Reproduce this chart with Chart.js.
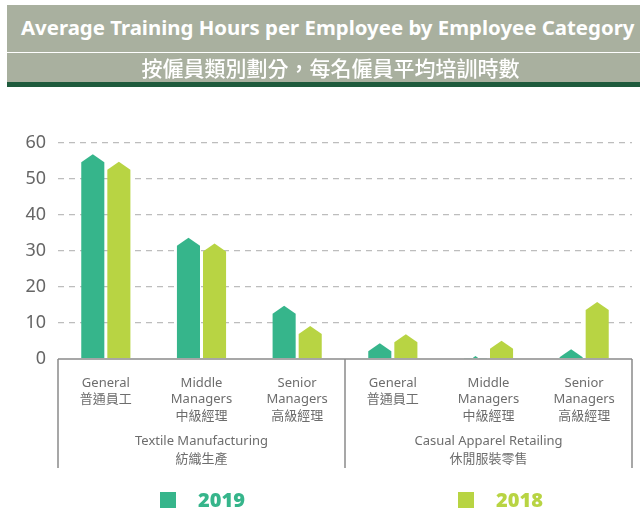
<!DOCTYPE html>
<html>
<head>
<meta charset="utf-8">
<script src="https://cdn.jsdelivr.net/npm/chart.js"></script>
<style>
    body { margin: 0; background: #fff; }
    #wrap { position: relative; width: 640px; height: 510px; overflow: hidden; }
    #grafica { position: absolute; left: 0; top: 0; }
    .banda1 {
        position: absolute; left: 7px; top: 5px; width: 633px; height: 47px;
        background: #a9b09f; color: #fff; white-space: nowrap;
        font: bold 20.4px "Noto Sans", sans-serif; line-height: 44px; text-indent: 14px;
    }
    .banda2 {
        position: absolute; left: 7px; top: 53px; width: 633px; height: 29px;
        background: #a9b09f; color: #fff; text-align: center; white-space: nowrap;
        font: 500 21px "Noto Sans CJK TC", sans-serif; line-height: 29px; text-indent: 14px;
    }
    .linea { position: absolute; left: 7px; top: 82px; width: 633px; height: 5px; background: #1f5b3d; }
    .leyenda { position: absolute; top: 488px; height: 24px; font: bold 20px "Noto Sans", sans-serif; line-height: 24px; }
    .leyenda span { position: absolute; left: 0; top: 4px; width: 16px; height: 16px; }
    .leyenda b { position: absolute; left: 38px; top: 0; }
</style>
</head>
<body>
<div id="wrap">
    <canvas id="grafica" width="640" height="510"></canvas>
    <div class="banda1">Average Training Hours per Employee by Employee Category</div>
    <div class="banda2">按僱員類別劃分，每名僱員平均培訓時數</div>
    <div class="linea"></div>
    <div class="leyenda" style="left:160px; color:#36b58b;"><span style="background:#36b58b;"></span><b>2019</b></div>
    <div class="leyenda" style="left:458px; color:#b8d443;"><span style="background:#b8d443;"></span><b>2018</b></div>
</div>
<script>
// Datos de la grafica
const categorias = [
    ["General", "普通員工"],
    ["Middle", "Managers", "中級經理"],
    ["Senior", "Managers", "高級經理"],
    ["General", "普通員工"],
    ["Middle", "Managers", "中級經理"],
    ["Senior", "Managers", "高級經理"],
];
const grupos = [
    ["Textile Manufacturing", "紡織生產"],
    ["Casual Apparel Retailing", "休閒服裝零售"],
];
const horas2019 = [56.9, 33.7, 14.8, 4.4, 0.8, 2.7];
const horas2018 = [54.8, 32.1, 9.2, 6.9, 5.1, 15.8];
const ticksY = [0, 10, 20, 30, 40, 50, 60];

const verde2019 = "#36b58b";
const verde2018 = "#b8d443";

Chart.defaults.font.family = '"Noto Sans", "Noto Sans CJK TC", sans-serif';

// Barras con la punta en forma de flecha (pentagono)
const pentagonos = {
    id: "pentagonos",
    beforeDatasetDraw() {
        // no dibujar el rectangulo normal
        return false;
    },
    afterDatasetsDraw(chart) {
        const ctx = chart.ctx;
        const area = chart.chartArea;
        const punta = 8;
        chart.data.datasets.forEach((ds, i) => {
            const meta = chart.getDatasetMeta(i);
            meta.data.forEach((bar) => {
                const { x, y, base, width } = bar.getProps(["x", "y", "base", "width"], true);
                const mitad = width / 2;
                ctx.save();
                ctx.beginPath();
                ctx.rect(area.left, area.top - 20, area.right - area.left, base - area.top + 20);
                ctx.clip();
                ctx.beginPath();
                ctx.moveTo(x - mitad, base);
                ctx.lineTo(x - mitad, y + punta);
                ctx.lineTo(x, y);
                ctx.lineTo(x + mitad, y + punta);
                ctx.lineTo(x + mitad, base);
                ctx.closePath();
                ctx.fillStyle = ds.backgroundColor;
                ctx.fill();
                ctx.restore();
            });
        });
    },
    afterDraw(chart) {
        // linea base y separadores de los grupos
        const ctx = chart.ctx;
        const escalaX = chart.scales.x;
        const y0 = chart.scales.y.getPixelForValue(0);
        const medio = (escalaX.getPixelForValue(2) + escalaX.getPixelForValue(3)) / 2;
        ctx.save();
        ctx.strokeStyle = "#8a8a8a";
        ctx.lineWidth = 1.5;
        ctx.beginPath();
        ctx.moveTo(escalaX.left, y0);
        ctx.lineTo(escalaX.right, y0);
        [escalaX.left, medio, escalaX.right].forEach((px) => {
            ctx.moveTo(px, y0);
            ctx.lineTo(px, y0 + 109);
        });
        ctx.stroke();
        ctx.restore();
    },
};

const canvas = document.getElementById("grafica").getContext("2d");
const chart = new Chart(canvas, {
    type: "bar",
    data: {
        labels: categorias,
        datasets: [
            {
                label: "2019",
                data: horas2019,
                backgroundColor: verde2019,
                categoryPercentage: 0.545,
                barPercentage: 0.885,
            },
            {
                label: "2018",
                data: horas2018,
                backgroundColor: verde2018,
                categoryPercentage: 0.545,
                barPercentage: 0.885,
            },
        ],
    },
    options: {
        responsive: false,
        animation: false,
        layout: { padding: { top: 143, right: 8, bottom: 36, left: 0 } },
        plugins: {
            legend: { display: false },
            tooltip: { enabled: false },
        },
        scales: {
            y: {
                min: 0,
                max: 60,
                afterBuildTicks: (scale) => {
                    scale.ticks = ticksY.map((v) => ({ value: v }));
                },
                afterFit: (scale) => {
                    scale.width = 58;
                },
                grid: {
                    drawTicks: false,
                    lineWidth: 1.3,
                    color: (c) => (c.tick && c.tick.value === 0 ? "rgba(0,0,0,0)" : "#bdbdbd"),
                },
                border: { display: false, dash: [6, 5] },
                ticks: {
                    padding: 12,
                    color: "#666666",
                    font: { size: 18 },
                },
            },
            x: {
                weight: 0,
                afterFit: (scale) => {
                    scale.height = 70;
                },
                grid: { display: false, drawTicks: false },
                border: { display: false },
                ticks: {
                    autoSkip: false,
                    maxRotation: 0,
                    padding: 16,
                    color: "#6d6d6d",
                    font: { size: 13, lineHeight: 1.27 },
                },
            },
            x2: {
                type: "category",
                position: "bottom",
                weight: 1,
                labels: grupos,
                offset: true,
                afterFit: (scale) => {
                    scale.height = 45;
                },
                grid: { display: false, drawTicks: false },
                border: { display: false },
                ticks: {
                    autoSkip: false,
                    maxRotation: 0,
                    padding: 3,
                    color: "#6d6d6d",
                    font: { size: 13, lineHeight: 1.385 },
                },
            },
        },
    },
    plugins: [pentagonos],
});
</script>
</body>
</html>
